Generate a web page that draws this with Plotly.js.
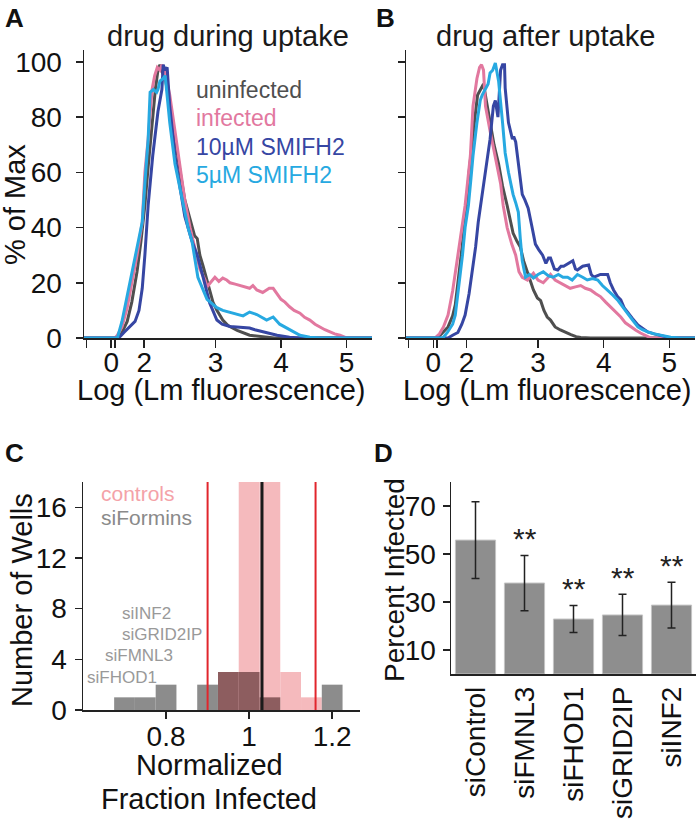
<!DOCTYPE html>
<html><head><meta charset="utf-8">
<script src="https://cdn.plot.ly/plotly-3.0.1.min.js"></script>
<style>html,body{margin:0;padding:0;background:#fff}#chart{width:700px;height:819px}</style>
</head><body><div id="chart"></div>
<script>
// ---------- Panel A: drug during uptake (x = display decades, y = % of Max) ----------
const A_uninfected = [[0.99,0],[1.49,0],[1.57,2],[1.65,6],[1.72,13],[1.80,24],[1.86,35],[1.92,48],[1.97,62],[2.03,78],[2.08,90],[2.12,97],[2.15,99],[2.19,96],[2.23,94],[2.30,85],[2.38,72],[2.46,60],[2.53,50],[2.61,43],[2.68,37],[2.72,36],[2.76,30],[2.81,26],[2.87,21],[2.91,17],[2.96,13],[3.02,10],[3.11,6.5],[3.19,4.5],[3.33,2.8],[3.52,1],[3.70,0.4],[3.90,0],[5.39,0]];
const A_infected = [[0.99,0],[1.46,0],[1.50,1],[1.57,4],[1.65,11],[1.72,20],[1.80,30],[1.88,42],[1.92,60],[1.97,72],[2.01,84],[2.03,90],[2.07,95],[2.11,98],[2.15,97],[2.18,99],[2.23,96],[2.26,93],[2.30,88],[2.38,75],[2.46,62],[2.53,50],[2.61,40],[2.69,32],[2.76,25],[2.84,21],[2.87,18.5],[2.92,20],[2.99,22],[3.05,20.5],[3.11,21.7],[3.17,21],[3.22,20],[3.30,19.5],[3.37,19],[3.45,18.5],[3.52,18],[3.57,19],[3.63,17.4],[3.72,16.5],[3.82,18],[3.88,18],[3.94,16],[4.00,14],[4.06,13],[4.13,11.3],[4.20,10],[4.29,9],[4.36,7.5],[4.44,6.5],[4.52,5],[4.59,4],[4.67,3],[4.75,2.2],[4.82,1.5],[4.90,1],[5.00,0],[5.39,0]];
const A_smifh2_10 = [[0.99,0],[1.52,0],[1.60,2],[1.69,4],[1.77,6],[1.83,10],[1.88,18],[1.92,30],[1.97,48],[2.04,66],[2.12,82],[2.18,90],[2.20,99],[2.23,97],[2.26,98],[2.30,84],[2.38,66],[2.46,54],[2.53,44],[2.64,35],[2.72,30],[2.81,22],[2.88,15.6],[2.91,12.7],[3.02,6.5],[3.10,5],[3.22,4.2],[3.37,3.8],[3.52,3.6],[3.60,3],[3.72,2.2],[3.84,1.5],[3.94,1],[4.13,0.3],[4.29,0],[5.39,0]];
const A_smifh2_5 = [[0.99,0],[1.50,0],[1.57,6],[1.65,15],[1.72,24],[1.80,33],[1.88,42],[1.92,56],[1.97,72],[2.00,89],[2.05,90],[2.10,89],[2.12,90],[2.15,93],[2.20,94],[2.23,95],[2.26,88],[2.30,78],[2.38,63],[2.49,51],[2.58,40],[2.64,35],[2.73,22],[2.87,14],[3.02,11],[3.11,10],[3.26,9],[3.42,8],[3.52,9.4],[3.63,8.5],[3.78,6.5],[3.88,7.6],[3.98,5],[4.13,3],[4.29,1],[4.44,0.3],[4.60,0],[5.39,0]];

// ---------- Panel B: drug after uptake ----------
const B_uninfected = [[0.99,0],[1.46,0],[1.53,1.5],[1.63,4],[1.70,8],[1.74,12],[1.83,30],[1.90,45],[1.95,60],[2.00,72],[2.04,80],[2.08,88],[2.12,90],[2.17,92],[2.22,85],[2.27,78],[2.33,70],[2.40,63],[2.46,55],[2.53,48],[2.58,43],[2.62,38],[2.68,35],[2.73,33],[2.78,28],[2.84,24],[2.89,20],[2.93,17.4],[2.99,14.5],[3.04,13.5],[3.09,10],[3.14,7.6],[3.19,6.5],[3.26,4],[3.34,2.9],[3.42,2],[3.50,1.2],[3.58,0.5],[3.65,0.2],[3.80,0],[5.39,0]];
const B_infected = [[0.99,0],[1.43,0],[1.50,1.5],[1.56,4],[1.63,8.3],[1.70,17],[1.78,30],[1.84,40],[1.89,48],[1.93,57],[1.97,66],[2.01,84],[2.07,94],[2.11,98],[2.14,99],[2.17,97],[2.20,84],[2.27,75],[2.35,66],[2.43,56],[2.47,48],[2.53,40],[2.60,34],[2.66,30],[2.71,24],[2.76,22],[2.84,21],[2.93,23.5],[3.00,21],[3.08,20],[3.14,21.5],[3.19,23],[3.26,21],[3.34,20],[3.42,19],[3.49,18],[3.57,18.5],[3.65,19],[3.72,18],[3.80,17.4],[3.88,16],[3.95,15],[4.03,13],[4.10,11.3],[4.18,9.5],[4.26,7.6],[4.33,5.5],[4.41,4],[4.49,2.8],[4.56,1.8],[4.64,0.8],[4.72,0],[5.39,0]];
const B_smifh2_10 = [[0.99,0],[1.63,0],[1.70,1],[1.78,2],[1.84,5],[1.89,8.3],[1.95,16],[2.00,24],[2.05,33],[2.09,42],[2.15,52],[2.20,60],[2.27,72],[2.32,84],[2.35,86],[2.39,80],[2.43,97],[2.46,99],[2.49,99],[2.50,90.5],[2.55,78],[2.61,72],[2.63,73],[2.66,71],[2.70,63],[2.76,52],[2.80,50],[2.85,47],[2.91,40],[2.96,34],[3.01,32],[3.07,30],[3.12,27],[3.16,29],[3.19,29],[3.25,25],[3.30,24.6],[3.35,26],[3.39,26],[3.46,27],[3.53,28],[3.57,25],[3.60,24.6],[3.68,26],[3.77,26.4],[3.81,23],[3.85,22],[3.95,23],[4.06,23],[4.10,20],[4.15,17.4],[4.21,15],[4.26,13.8],[4.31,11],[4.37,9],[4.44,7],[4.52,4.7],[4.60,3.2],[4.67,2.2],[4.77,1.5],[4.87,1],[4.95,0.4],[5.02,0],[5.39,0]];
const B_smifh2_5 = [[0.99,0],[1.55,0],[1.62,2],[1.70,5],[1.74,8.3],[1.80,20],[1.85,30],[1.89,40],[1.94,48],[1.98,58],[2.01,66],[2.07,78],[2.12,86],[2.15,88],[2.20,90.5],[2.24,92],[2.27,96],[2.31,97],[2.35,99.6],[2.40,93],[2.46,78],[2.50,67],[2.55,60],[2.58,56.5],[2.62,52],[2.66,49],[2.70,45.6],[2.73,36],[2.76,28],[2.81,22],[2.87,23],[2.93,21.7],[3.00,23],[3.08,24],[3.16,22.5],[3.23,22],[3.31,23],[3.38,22],[3.45,22],[3.52,21],[3.60,23],[3.68,22],[3.75,21],[3.83,21.5],[3.91,21],[3.98,19],[4.06,17.4],[4.14,15.5],[4.21,13.8],[4.29,11],[4.36,9],[4.44,6.5],[4.52,4],[4.59,3],[4.67,2.2],[4.77,1.5],[4.87,1],[4.95,0.5],[5.02,0.3],[5.17,0],[5.39,0]];

const histTickVals = [1.03, 1.405, 1.465, 1.91, 3, 4, 5];
const histTickText = ["", "0", "", "2", "3", "4", "5"];
const pctTicks = [0, 20, 40, 60, 80, 100];

// ---------- Panel C: histogram of normalized fraction infected ----------
const formin_bins   = [0.70, 0.75, 0.80, 0.90, 0.95, 1.00, 1.05, 1.20];
const formin_counts = [1, 1, 2, 2, 3, 3, 1, 2];
const control_bins   = [0.95, 1.00, 1.05, 1.10, 1.15];
const control_counts = [3, 20, 20, 3, 1];
const binWidth = 0.05;
const cutoffs = [0.90, 1.16];
const controlMean = 1.031;

// ---------- Panel D: percent infected ----------
const sirnas = ["siControl", "siFMNL3", "siFHOD1", "siGRID2IP", "siINF2"];
const pctInfected = [55.8, 37.9, 22.9, 24.6, 28.7];
const pctError = [16, 11.5, 5.6, 8.6, 9.5];
const signif = ["", "**", "**", "**", "**"];

// ---------- styles ----------
const FONT = "Liberation Sans, Arial, Helvetica, sans-serif";
const COL = {uninf: "#4f4f4f", inf: "#e2789f", d10: "#3646a3", d5: "#27a9e1"};
const W = 700, H = 819;
const P = (px, py) => ({x: px / W, y: 1 - py / H});

function line(pairs, color, xa, ya) {
  return {type: "scatter", mode: "lines", x: pairs.map(p => p[0]), y: pairs.map(p => p[1]),
    xaxis: xa, yaxis: ya, line: {color: color, width: 3}, hoverinfo: "skip", showlegend: false};
}

const traces = [
  line(A_uninfected, COL.uninf, "x", "y"),
  line(A_infected, COL.inf, "x", "y"),
  line(A_smifh2_10, COL.d10, "x", "y"),
  line(A_smifh2_5, COL.d5, "x", "y"),
  line(B_uninfected, COL.uninf, "x2", "y2"),
  line(B_infected, COL.inf, "x2", "y2"),
  line(B_smifh2_10, COL.d10, "x2", "y2"),
  line(B_smifh2_5, COL.d5, "x2", "y2"),
  {type: "bar", x: control_bins, y: control_counts, width: binWidth, xaxis: "x3", yaxis: "y3",
   marker: {color: "#f5babd", line: {width: 0}}, showlegend: false, hoverinfo: "skip"},
  {type: "bar", x: formin_bins, y: formin_counts, width: binWidth, xaxis: "x3", yaxis: "y3",
   marker: {color: formin_bins.map(b => control_bins.some(c => Math.abs(c - b) < 1e-9) ? "#8d5d5f" : "#8c8c8c"), line: {width: 0}},
   showlegend: false, hoverinfo: "skip"},
  ...cutoffs.map(c => ({type: "scatter", mode: "lines", x: [c, c], y: [0, 18], xaxis: "x3", yaxis: "y3",
    line: {color: "#e1252c", width: 2}, showlegend: false, hoverinfo: "skip"})),
  {type: "scatter", mode: "lines", x: [controlMean, controlMean], y: [0, 18.45], xaxis: "x3", yaxis: "y3",
   cliponaxis: false, line: {color: "#1a1a1a", width: 3}, showlegend: false, hoverinfo: "skip"},
  {type: "bar", x: sirnas, y: pctInfected, width: 0.82, xaxis: "x4", yaxis: "y4",
   marker: {color: "#8e8e8e", line: {color: "#c4c4c4", width: 1}},
   error_y: {type: "data", array: pctError, visible: true, color: "#222", thickness: 1.5, width: 4},
   showlegend: false, hoverinfo: "skip"}
];

const axBase = {showline: true, linecolor: "#222", linewidth: 1.5, ticks: "outside", tickcolor: "#222",
  ticklen: 7, tickwidth: 1.5, showgrid: false, zeroline: false, fixedrange: true,
  tickfont: {family: FONT, size: 28, color: "#111"}};

const layout = {
  width: W, height: H, margin: {l: 0, r: 0, t: 0, b: 0}, paper_bgcolor: "#fff", plot_bgcolor: "rgba(0,0,0,0)",
  barmode: "overlay", font: {family: FONT, color: "#111"}, showlegend: false,
  xaxis: Object.assign({}, axBase, {domain: [84 / W, 372 / W], anchor: "y", range: [0.99, 5.39],
    tickmode: "array", tickvals: histTickVals, ticktext: histTickText, ticklen: 8, ticklabelstandoff: -9}),
  yaxis: Object.assign({}, axBase, {domain: [1 - 338 / H, 1 - 50 / H], anchor: "x", range: [0, 104.3],
    tickmode: "array", tickvals: pctTicks, ticklabelstandoff: 8}),
  xaxis2: Object.assign({}, axBase, {domain: [406 / W, 695 / W], anchor: "y2", range: [0.99, 5.39],
    tickmode: "array", tickvals: histTickVals, ticktext: histTickText, ticklen: 8, ticklabelstandoff: -9}),
  yaxis2: Object.assign({}, axBase, {domain: [1 - 338 / H, 1 - 50 / H], anchor: "x2", range: [0, 104.3],
    tickmode: "array", tickvals: pctTicks, showticklabels: false}),
  xaxis3: Object.assign({}, axBase, {domain: [83 / W, 360 / W], anchor: "y3", range: [0.6, 1.267],
    tickmode: "array", tickvals: [0.8, 1, 1.2], ticktext: ["0.8", "1", "1.2"], ticklabelstandoff: -6}),
  yaxis3: Object.assign({}, axBase, {domain: [1 - 710 / H, 1 - 482 / H], anchor: "x3", range: [0, 18],
    tickmode: "array", tickvals: [0, 4, 8, 12, 16], ticklabelstandoff: 2}),
  xaxis4: Object.assign({}, axBase, {domain: [451 / W, 696 / W], anchor: "y4", type: "category",
    range: [-0.5, 4.5], ticks: "", tickangle: -90}),
  yaxis4: Object.assign({}, axBase, {domain: [1 - 674 / H, 1 - 482 / H], anchor: "x4", range: [0, 80],
    tickmode: "array", tickvals: [10, 30, 50, 70], ticklabelstandoff: 1}),
  annotations: []
};

function ann(text, px, py, opt) {
  const p = P(px, py);
  layout.annotations.push(Object.assign({text: text, x: p.x, y: p.y, xref: "paper", yref: "paper",
    showarrow: false, xanchor: "center", yanchor: "middle",
    font: {family: FONT, size: 28, color: "#111"}}, opt || {}));
}

// panel letters
ann("<b>A</b>", 3, 18, {xanchor: "left", font: {family: FONT, size: 26, color: "#111"}});
ann("<b>B</b>", 374, 18, {xanchor: "left", font: {family: FONT, size: 26, color: "#111"}});
ann("<b>C</b>", 3, 453, {xanchor: "left", font: {family: FONT, size: 26, color: "#111"}});
ann("<b>D</b>", 372, 453, {xanchor: "left", font: {family: FONT, size: 26, color: "#111"}});
// titles
ann("drug during uptake", 228, 36, {font: {family: FONT, size: 29, color: "#1a1a1a"}});
ann("drug after uptake", 545, 36, {font: {family: FONT, size: 29, color: "#1a1a1a"}});
ann("Log (Lm fluorescence)", 222, 390, {font: {family: FONT, size: 29, color: "#111"}});
ann("Log (Lm fluorescence)", 547, 390, {font: {family: FONT, size: 29, color: "#111"}});
ann("% of Max", 15, 205, {textangle: -90, font: {family: FONT, size: 29, color: "#111"}});
// legend of A
const legendItems = [["uninfected", COL.uninf], ["infected", COL.inf], ["10\u00b5M SMIFH2", COL.d10], ["5\u00b5M SMIFH2", COL.d5]];
legendItems.forEach((it, i) => ann(it[0], 194, 90 + i * 28.3, {xanchor: "left", font: {family: FONT, size: 23, color: it[1]}}));
// panel C texts
ann("controls", 99, 493, {xanchor: "left", font: {family: FONT, size: 21, color: "#f4a2a8"}});
ann("siFormins", 99, 517, {xanchor: "left", font: {family: FONT, size: 21, color: "#8a8a8a"}});
ann("siINF2", 120, 613, {xanchor: "left", font: {family: FONT, size: 17, color: "#999"}});
ann("siGRID2IP", 120, 634, {xanchor: "left", font: {family: FONT, size: 17, color: "#999"}});
ann("siFMNL3", 103, 655, {xanchor: "left", font: {family: FONT, size: 17, color: "#999"}});
ann("siFHOD1", 85, 677, {xanchor: "left", font: {family: FONT, size: 17, color: "#999"}});
ann("Normalized", 209, 765, {font: {family: FONT, size: 29, color: "#111"}});
ann("Fraction Infected", 209, 799, {font: {family: FONT, size: 29, color: "#111"}});
ann("Number of Wells", 22, 600, {textangle: -90, font: {family: FONT, size: 29, color: "#111"}});
// panel D texts
ann("Percent Infected", 394, 580, {textangle: -90, font: {family: FONT, size: 28, color: "#111"}});
sirnas.forEach((s, i) => {
  if (!signif[i]) return;
  layout.annotations.push({text: signif[i], x: s, y: pctInfected[i] + pctError[i], xref: "x4", yref: "y4",
    showarrow: false, xanchor: "center", yanchor: "middle", yshift: 17,
    font: {family: FONT, size: 30, color: "#222"}});
});

Plotly.newPlot("chart", traces, layout, {staticPlot: true, displayModeBar: false});
</script>
</body></html>
